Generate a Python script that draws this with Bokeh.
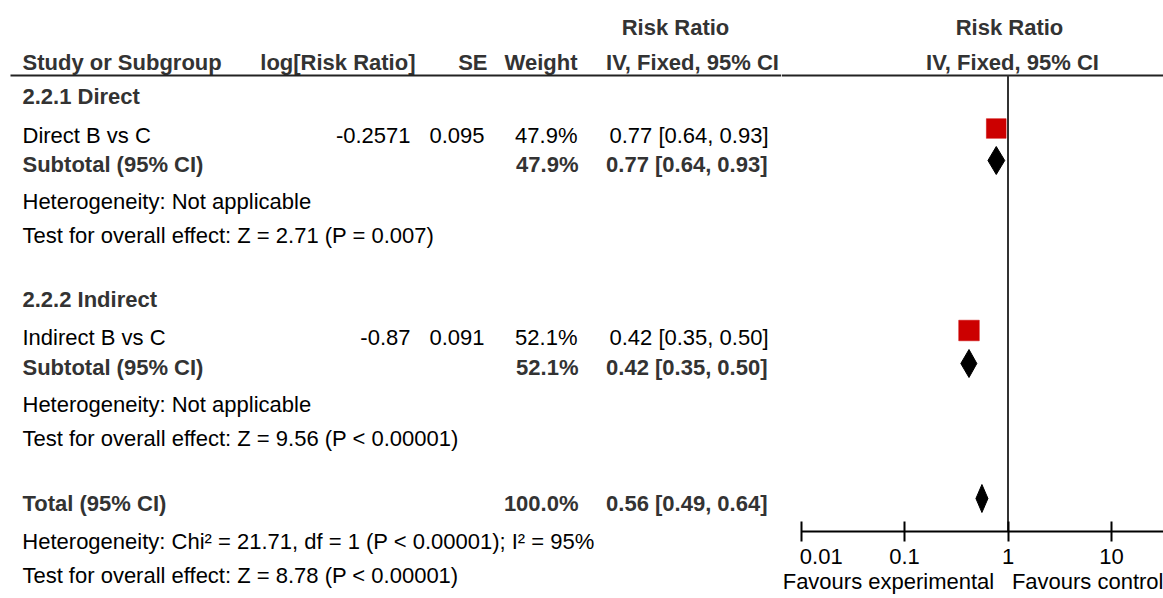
from bokeh.plotting import figure
from bokeh.layouts import row
from bokeh.models import Range1d, FixedTicker, LogAxis, LinearAxis
from bokeh.core.properties import value
from bokeh.embed import file_html
from bokeh.resources import INLINE

# ---------------- data ----------------
subgroup_titles = ["2.2.1 Direct", "2.2.2 Indirect"]
studies = ["Direct B vs C", "Indirect B vs C"]
log_rr = [-0.2571, -0.87]
se = [0.095, 0.091]
weight = [47.9, 52.1]
rr = [0.77, 0.42]
rr_lo = [0.64, 0.35]
rr_hi = [0.93, 0.50]
sub_rr = [0.77, 0.42]
sub_lo = [0.64, 0.35]
sub_hi = [0.93, 0.50]
sub_z = [2.71, 9.56]
sub_p = ["P = 0.007", "P < 0.00001"]
total_rr = 0.56
total_lo = 0.49
total_hi = 0.64
chi2 = 21.71
chi_df = 1
chi_p = "P < 0.00001"
i2 = 95
total_z = 8.78
total_p = "P < 0.00001"
tick_values = [0.01, 0.1, 1, 10, 100]
tick_labels = ["\u00a0\u00a0\u00a00.01", "0.1", "1", "10", "100"]
favour_labels = ["Favours experimental", "Favours control"]
favour_pos = [0.07, 7]

# ---------------- layout constants ----------------
W, H = 1163, 598
LEFT_W = 781
RIGHT_W = W - LEFT_W
PX_ONE = 1007.5      # pixel of RR = 1
PX_DEC = 103.5       # pixels per decade
FRAME_BOTTOM = 531
FONT = value("Liberation Sans")
FS = "22px"
BOLD_C = "#333333"
REG_C = "#000000"


def px2x(px):
    return 10 ** ((px - PX_ONE) / PX_DEC)


def txt(p, x, y, s, bold=False, align="left", color=None):
    p.text(x=[x], y=[y], text=[s], text_font=FONT, text_font_size=FS,
           text_font_style="bold" if bold else "normal",
           text_align=align, text_baseline="middle",
           text_color=color or (BOLD_C if bold else REG_C))


def text_axis(label, center_px, standoff):
    # an axis used only to show one line of text below the table frame
    return LinearAxis(ticker=FixedTicker(ticks=[center_px]),
                      major_label_overrides={center_px: label},
                      axis_line_color=None, major_tick_line_color=None, minor_tick_line_color=None,
                      major_tick_in=0, major_tick_out=0, major_label_standoff=standoff,
                      major_label_text_font="Liberation Sans", major_label_text_font_size=FS,
                      major_label_text_color=REG_C)


# ---------------- left: table ----------------
left = figure(width=LEFT_W, height=H, x_range=Range1d(0, LEFT_W), y_range=Range1d(FRAME_BOTTOM, 0),
              toolbar_location=None, output_backend="svg",
              x_axis_location=None, y_axis_location=None,
              min_border_left=0, min_border_right=0, min_border_top=0,
              min_border_bottom=H - FRAME_BOTTOM, outline_line_color=None)
left.grid.visible = False

# headers
txt(left, 675, 27, "Risk Ratio", True, "center")
txt(left, 22, 62, "Study or Subgroup", True)
txt(left, 415, 62, "log[Risk Ratio]", True, "right")
txt(left, 487, 62, "SE", True, "right")
txt(left, 577, 62, "Weight", True, "right")
txt(left, 692, 62, "IV, Fixed, 95% CI", True, "center")
left.segment(x0=[10], x1=[LEFT_W], y0=[75], y1=[75], line_color="#222222", line_width=2)

group_y = [96, 299]
study_y = [135, 337]
sub_y = [164, 367]
het_y = [201, 404]
test_y = [235, 438]

for i in range(2):
    txt(left, 22, group_y[i], subgroup_titles[i], True)
    txt(left, 22, study_y[i], studies[i])
    txt(left, 410, study_y[i], f"{log_rr[i]}", align="right")
    txt(left, 484, study_y[i], f"{se[i]:.3f}", align="right")
    txt(left, 577, study_y[i], f"{weight[i]:.1f}%", align="right")
    txt(left, 768, study_y[i], f"{rr[i]:.2f} [{rr_lo[i]:.2f}, {rr_hi[i]:.2f}]", align="right")
    txt(left, 22, sub_y[i], "Subtotal (95% CI)", True)
    txt(left, 578, sub_y[i], f"{weight[i]:.1f}%", True, "right")
    txt(left, 767, sub_y[i], f"{sub_rr[i]:.2f} [{sub_lo[i]:.2f}, {sub_hi[i]:.2f}]", True, "right")
    txt(left, 22, het_y[i], "Heterogeneity: Not applicable")
    txt(left, 22, test_y[i], f"Test for overall effect: Z = {sub_z[i]:.2f} ({sub_p[i]})")

total_y = 503
txt(left, 22, total_y, "Total (95% CI)", True)
txt(left, 578, total_y, f"{sum(weight):.1f}%", True, "right")
txt(left, 767, total_y, f"{total_rr:.2f} [{total_lo:.2f}, {total_hi:.2f}]", True, "right")
left.add_layout(text_axis(f"Heterogeneity: Chi\u00b2 = {chi2:.2f}, df = {chi_df} ({chi_p}); I\u00b2 = {i2}%", 308, -3), "below")
left.add_layout(text_axis(f"Test for overall effect: Z = {total_z:.2f} ({total_p})", 240, 6), "below")

# ---------------- right: forest plot ----------------
right = figure(width=RIGHT_W, height=H, x_axis_type="log",
               x_range=Range1d(px2x(LEFT_W), px2x(W)), y_range=Range1d(FRAME_BOTTOM, 0),
               toolbar_location=None, output_backend="svg",
               y_axis_location=None, min_border_left=0, min_border_right=0,
               min_border_top=0, min_border_bottom=H - FRAME_BOTTOM,
               outline_line_color=None)
right.grid.visible = False

txt(right, px2x(1009), 27, "Risk Ratio", True, "center")
txt(right, px2x(1012), 62, "IV, Fixed, 95% CI", True, "center")
right.segment(x0=[px2x(LEFT_W)], x1=[px2x(W)], y0=[75], y1=[75], line_color="#222222", line_width=2)
# line of no effect
right.segment(x0=[1], x1=[1], y0=[75], y1=[FRAME_BOTTOM], line_color="#333333", line_width=2)

# study CIs and squares
sq_y = [study_y[i] - 7 for i in range(2)]
right.segment(x0=rr_lo, x1=rr_hi, y0=sq_y, y1=sq_y, line_color="black", line_width=1)
right.scatter(x=rr, y=sq_y, marker="square", size=[2.85 * w ** 0.5 for w in weight],
              fill_color="#cc0000", line_color="#cc0000", line_width=0.5)

# diamonds
dia_xs, dia_ys = [], []
dia_centers = [sub_y[0] - 4, sub_y[1] - 4, total_y - 5]
dia_vals = [(sub_lo[0], sub_rr[0], sub_hi[0]), (sub_lo[1], sub_rr[1], sub_hi[1]), (total_lo, total_rr, total_hi)]
for (lo, mid, hi), cy in zip(dia_vals, dia_centers):
    dia_xs.append([lo, mid, hi, mid])
    dia_ys.append([cy, cy - 14, cy, cy + 14])
right.patches(xs=dia_xs, ys=dia_ys, fill_color="black", line_color="black", line_width=1)

# main axis
ax = right.xaxis[0]
ax.ticker = FixedTicker(ticks=tick_values)
ax.major_label_overrides = {v: l for v, l in zip(tick_values, tick_labels)}
ax.bounds = (0.01, 1000)
ax.axis_line_color = "black"
ax.axis_line_width = 2
ax.major_tick_line_color = "black"
ax.major_tick_line_width = 2
ax.major_tick_in = 10
ax.major_tick_out = 10
ax.minor_tick_line_color = None
ax.major_label_standoff = 2
ax.major_label_text_font = "Liberation Sans"
ax.major_label_text_font_size = FS
ax.major_label_text_color = "black"

fav = LogAxis(ticker=FixedTicker(ticks=favour_pos),
              major_label_overrides={v: l for v, l in zip(favour_pos, favour_labels)},
              axis_line_color=None, major_tick_line_color=None, minor_tick_line_color=None,
              major_tick_in=0, major_tick_out=0, major_label_standoff=-3,
              major_label_text_font="Liberation Sans", major_label_text_font_size=FS,
              major_label_text_color="black")
right.add_layout(fav, "below")

layout = row(left, right)
open("out.html", "w").write(file_html(layout, INLINE))
